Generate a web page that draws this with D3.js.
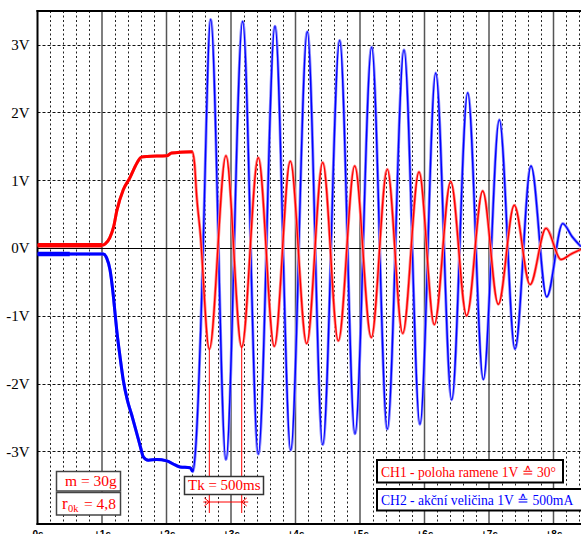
<!DOCTYPE html>
<html>
<head>
<meta charset="utf-8">
<script src="https://cdn.jsdelivr.net/npm/d3@7"></script>
<style>
  html, body { margin: 0; padding: 0; background: #fff; }
  svg { display: block; }
</style>
</head>
<body>
<svg id="scope" width="581" height="534"></svg>
<script>
// CH1 – arm position (V)
const ch1Time = [0, 0.5, 1.0, 1.05, 1.12, 1.18, 1.23, 1.33, 1.43, 1.54, 1.61, 1.70, 2.00, 2.08, 2.40, 2.434, 2.468, 2.519,
  2.664, 2.922, 3.166, 3.423, 3.671, 3.919, 4.174, 4.422, 4.664, 4.918, 5.175, 5.423, 5.662, 5.915, 6.152, 6.406,
  6.654, 6.902, 7.144, 7.392, 7.636, 7.884, 8.116, 8.271, 8.426];
const ch1Volts = [0.04, 0.04, 0.04, 0.06, 0.15, 0.31, 0.55, 0.86, 1.03, 1.25, 1.34, 1.35, 1.36, 1.40, 1.42, 1.25, 0.76, 0.27,
  -1.49, 1.36, -1.46, 1.33, -1.45, 1.28, -1.41, 1.26, -1.37, 1.21, -1.32, 1.16, -1.26, 1.12, -1.13, 0.98,
  -1.00, 0.84, -0.83, 0.63, -0.54, 0.29, -0.17, -0.09, -0.02];

// CH2 – actuating quantity (V)
const ch2Time = [0, 0.5, 1.02, 1.073, 1.124, 1.166, 1.202, 1.228, 1.279, 1.330, 1.392, 1.460, 1.538, 1.600, 1.640, 1.718,
  1.848, 2.003, 2.132, 2.209, 2.364, 2.406, 2.457, 2.493, 2.530, 2.561,
  2.685, 2.922, 3.181, 3.423, 3.682, 3.926, 4.183, 4.422, 4.685, 4.922, 5.181, 5.423, 5.682, 5.930, 6.174, 6.422,
  6.670, 6.912, 7.160, 7.403, 7.651, 7.895, 8.143, 8.287, 8.426];
const ch2Volts = [-0.09, -0.09, -0.09, -0.15, -0.32, -0.62, -0.96, -1.21, -1.60, -1.95, -2.24, -2.46, -2.73, -2.95, -3.08, -3.13,
  -3.12, -3.14, -3.20, -3.23, -3.24, -3.30, -2.88, -2.19, -1.21, -0.23,
  3.37, -3.12, 3.34, -3.04, 3.27, -2.98, 3.19, -2.90, 3.06, -2.74, 2.96, -2.67, 2.92, -2.60, 2.58, -2.24,
  2.29, -1.94, 1.89, -1.49, 1.21, -0.72, 0.36, 0.17, 0.02];

// axis ticks
const secondTicks = [0, 1, 2, 3, 4, 5, 6, 7, 8];
const secondLabels = ["0s", "+1s", "+2s", "+3s", "+4s", "+5s", "+6s", "+7s", "+8s"];
const voltTicks = [3, 2, 1, 0, -1, -2, -3];
const voltLabels = ["3V", "2V", "1V", "0V", "-1V", "-2V", "-3V"];

// period marker between two CH1 minima
const periodText = "Tk = 500ms";
const periodStart = 2.664, periodEnd = 3.166;

const legend1 = "CH1 - poloha ramene 1V \u2259 30\u00B0";
const legend2 = "CH2 - akční veličina 1V \u2259 500mA";

const svg = d3.select("#scope");
const W = 581, H = 534;
const plotTop = 11, plotBottom = 524;

svg.append("rect").attr("width", W).attr("height", H).attr("fill", "#fff");

const x = d3.scaleLinear().domain([0, 8.5]).range([37.5, 37.5 + 64.5 * 8.5]);
const y = d3.scaleLinear().domain([-4.08, 3.5]).range([plotBottom + 0.6, plotTop - 0.3]);

const grid = svg.append("g");

// minor time grid every 0.2 s
const minor = d3.range(1, 43).map(i => i * 0.2).filter(v => Math.abs(v - Math.round(v)) > 1e-6);
grid.selectAll("line.minor").data(minor).join("line")
  .attr("x1", d => Math.round(x(d)) + 0.5).attr("x2", d => Math.round(x(d)) + 0.5)
  .attr("y1", plotTop).attr("y2", plotBottom)
  .attr("stroke", "#222").attr("stroke-width", 1).attr("stroke-dasharray", "2,2.5");

// whole-second lines
grid.selectAll("line.major").data(secondTicks.slice(1)).join("line")
  .attr("x1", d => x(d)).attr("x2", d => x(d))
  .attr("y1", plotTop).attr("y2", plotBottom)
  .attr("stroke", "#555").attr("stroke-width", 1.5);

// voltage grid
grid.selectAll("line.volt").data(voltTicks.filter(v => v !== 0)).join("line")
  .attr("x1", x(0)).attr("x2", W)
  .attr("y1", d => Math.round(y(d)) + 0.5).attr("y2", d => Math.round(y(d)) + 0.5)
  .attr("stroke", "#111").attr("stroke-width", 1).attr("stroke-dasharray", "3,2");

// zero line
grid.append("line")
  .attr("x1", x(0)).attr("x2", W)
  .attr("y1", Math.round(y(0)) + 0.5).attr("y2", Math.round(y(0)) + 0.5)
  .attr("stroke", "#000").attr("stroke-width", 1);

// frame
svg.append("line").attr("x1", x(0)).attr("x2", x(0)).attr("y1", plotTop - 1).attr("y2", plotBottom + 1)
  .attr("stroke", "#000").attr("stroke-width", 2);
svg.append("line").attr("x1", x(0) - 1).attr("x2", W).attr("y1", plotTop).attr("y2", plotTop)
  .attr("stroke", "#000").attr("stroke-width", 2);
svg.append("line").attr("x1", x(0) - 1).attr("x2", W).attr("y1", plotBottom).attr("y2", plotBottom)
  .attr("stroke", "#000").attr("stroke-width", 2);

// axis labels
const yAxis = d3.axisLeft(y).tickValues(voltTicks).tickFormat((d, i) => voltLabels[i]).tickSize(0).tickPadding(8);
const gy = svg.append("g").attr("transform", `translate(${x(0)},0)`).call(yAxis);
gy.select(".domain").remove();
gy.selectAll("text").attr("font-family", "'Liberation Serif', 'Times New Roman', serif")
  .attr("font-size", 15).attr("fill", "#000");

const xAxis = d3.axisBottom(x).tickValues(secondTicks).tickFormat((d, i) => secondLabels[i]).tickSize(0).tickPadding(7);
const gx = svg.append("g").attr("transform", `translate(0,${plotBottom})`).call(xAxis);
gx.select(".domain").remove();
gx.selectAll("text").attr("font-family", "'Liberation Sans', Arial, sans-serif")
  .attr("font-weight", "bold").attr("font-size", 10).attr("fill", "#000");

// traces
svg.append("clipPath").attr("id", "plotClip").append("rect")
  .attr("x", x(0)).attr("y", plotTop).attr("width", W - x(0)).attr("height", plotBottom - plotTop);

const line = d3.line().x(d => x(d.t)).y(d => y(d.v)).curve(d3.curveMonotoneX);
const ch1 = ch1Time.map((t, i) => ({ t, v: ch1Volts[i] }));
const ch2 = ch2Time.map((t, i) => ({ t, v: ch2Volts[i] }));

const traces = svg.append("g").attr("clip-path", "url(#plotClip)");

function drawTrace(data, light, core) {
  traces.append("path").datum(data).attr("d", line)
    .attr("fill", "none").attr("stroke", light).attr("stroke-width", 3).attr("stroke-linejoin", "round");
  traces.append("path").datum(data).attr("d", line)
    .attr("fill", "none").attr("stroke", core).attr("stroke-width", 1.4).attr("stroke-linejoin", "round");
  // noisy settling part before the swing is drawn heavier
  const settle = data.filter(d => d.t <= 2.41);
  traces.append("path").datum(settle).attr("d", line)
    .attr("fill", "none").attr("stroke", core).attr("stroke-width", 3);
  const rest = data.filter(d => d.t <= 1.0);
  traces.append("path").datum(rest).attr("d", line)
    .attr("fill", "none").attr("stroke", core).attr("stroke-width", 4.5);
}
drawTrace(ch2, "#8a8aff", "#0000ff");
drawTrace(ch1, "#ff8a8a", "#ff0000");

// period marker
const markY = 502;
const minV = ch1Volts[ch1Time.indexOf(periodStart)];
const minV2 = ch1Volts[ch1Time.indexOf(periodEnd)];
const mk = svg.append("g").attr("stroke", "#f00").attr("stroke-width", 1).attr("fill", "none");
mk.append("line").attr("x1", x(periodStart)).attr("x2", x(periodStart)).attr("y1", y(minV)).attr("y2", 513);
mk.append("line").attr("x1", x(periodEnd)).attr("x2", x(periodEnd)).attr("y1", y(minV2)).attr("y2", 513);
mk.append("line").attr("x1", x(periodStart) - 6).attr("x2", x(periodEnd) + 6.5).attr("y1", markY).attr("y2", markY);
mk.append("path").attr("d", `M${x(periodStart) - 5},${markY - 4}L${x(periodStart)},${markY}L${x(periodStart) - 5},${markY + 4}`);
mk.append("path").attr("d", `M${x(periodEnd) + 5},${markY - 4}L${x(periodEnd)},${markY}L${x(periodEnd) + 5},${markY + 4}`);

const serif = "'Liberation Serif', 'Times New Roman', serif";

svg.append("rect").attr("x", 184.5).attr("y", 476.5).attr("width", 79).attr("height", 18)
  .attr("fill", "#fff").attr("stroke", "#333").attr("stroke-width", 1.5);
svg.append("text").attr("x", 188).attr("y", 489.5).attr("font-family", serif).attr("font-size", 15)
  .attr("fill", "#f00").text(periodText);

// parameter boxes
svg.append("rect").attr("x", 56.5).attr("y", 471.5).attr("width", 64).attr("height", 19.5)
  .attr("fill", "#fff").attr("stroke", "#444").attr("stroke-width", 1.5);
svg.append("text").attr("x", 65).attr("y", 486).attr("font-family", serif).attr("font-size", 15.5)
  .attr("fill", "#f00").text("m = 30g");

svg.append("rect").attr("x", 56.5).attr("y", 492.5).attr("width", 64).attr("height", 22.5)
  .attr("fill", "#fff").attr("stroke", "#444").attr("stroke-width", 1.5);
const rt = svg.append("text").attr("font-family", serif).attr("fill", "#f00");
rt.append("tspan").attr("x", 62).attr("y", 508.5).attr("font-size", 17).text("r");
rt.append("tspan").attr("x", 68).attr("y", 512).attr("font-size", 10.5).text("0k");
rt.append("tspan").attr("x", 84).attr("y", 508.5).attr("font-size", 15.5).text("= 4,8");

// channel legend
svg.append("rect").attr("x", 377).attr("y", 460).attr("width", 186).attr("height", 22.5)
  .attr("fill", "#fff").attr("stroke", "#000").attr("stroke-width", 2);
svg.append("text").attr("x", 381).attr("y", 477).attr("font-family", serif).attr("font-size", 13.6)
  .attr("fill", "#f00").text(legend1);
svg.append("rect").attr("x", 377).attr("y", 489).attr("width", 230).attr("height", 21.5)
  .attr("fill", "#fff").attr("stroke", "#000").attr("stroke-width", 2);
svg.append("text").attr("x", 381).attr("y", 505).attr("font-family", serif).attr("font-size", 13.6)
  .attr("fill", "#00f").text(legend2);
</script>
</body>
</html>
